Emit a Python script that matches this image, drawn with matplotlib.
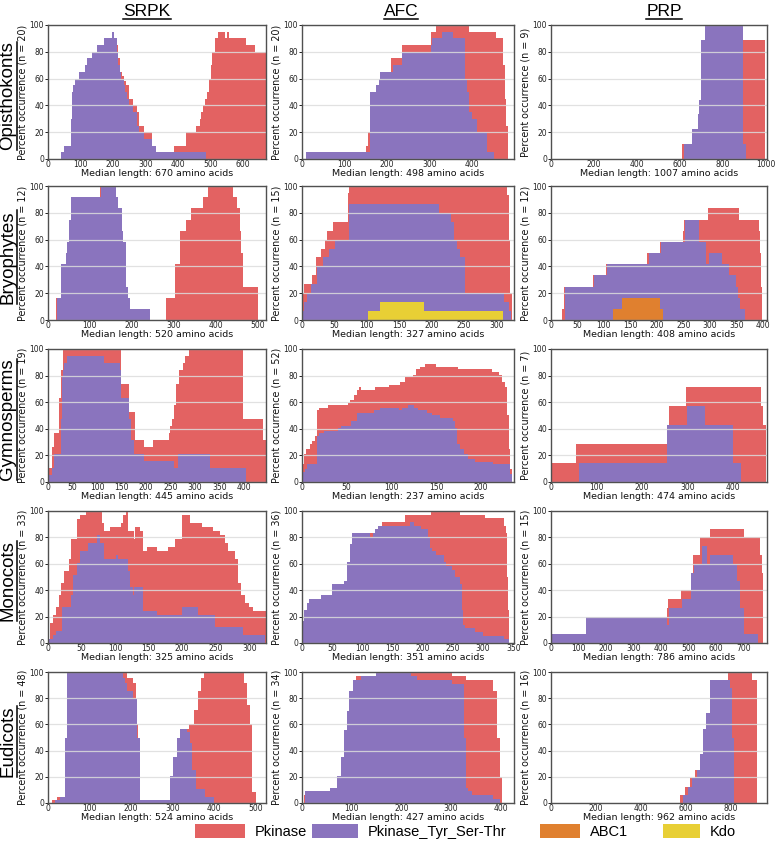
import matplotlib
matplotlib.use('Agg')
import matplotlib.pyplot as plt
import numpy as np
from matplotlib.patches import Rectangle
from matplotlib.lines import Line2D

W, H = 778, 850
fig = plt.figure(figsize=(W / 100, H / 100), dpi=100)

RED = '#E36262'
PURPLE = '#8A74BE'
ORANGE = '#E0802F'
YELLOW = '#E8CF35'

columns = ['SRPK', 'AFC', 'PRP']
groups = ['Opisthokonts', 'Bryophytes', 'Gymnosperms', 'Monocots', 'Eudicots']
n_seq = [[20, 20, 9], [12, 15, 12], [19, 52, 7], [33, 36, 15], [48, 34, 16]]
median_len = [[670, 498, 1007], [520, 327, 408], [445, 237, 474], [325, 351, 786], [524, 427, 962]]
xtick_step = [[100, 100, 200], [100, 50, 50], [50, 50, 100], [50, 50, 100], [100, 100, 200]]
legend_names = ['Pkinase', 'Pkinase_Tyr_Ser-Thr', 'ABC1', 'Kdo']

# ---- step profiles: (start position, percent) ----
# Opisthokonts
SRPK_OPI_PK = [(0, 0), (39, 5), (49, 10), (72, 30), (74, 50), (78, 55), (83, 60), (95, 65), (114, 70), (121, 75),
               (134, 80), (152, 85), (172, 90), (198, 95), (204, 90), (212, 85), (216, 75), (222, 65), (226, 62),
               (234, 58), (240, 55), (248, 45), (262, 40), (274, 35), (280, 25), (295, 20), (320, 10), (333, 5),
               (388, 10), (424, 20), (455, 25), (466, 30), (471, 35), (477, 40), (484, 45), (490, 50), (495, 60),
               (500, 70), (505, 80), (512, 90), (522, 95), (543, 90), (550, 95), (557, 90), (610, 85), (636, 80),
               (670, 80)]
SRPK_OPI_PST = [(0, 0), (39, 5), (49, 10), (72, 30), (74, 50), (78, 55), (83, 60), (95, 65), (114, 70), (121, 75),
                (134, 80), (152, 85), (172, 90), (198, 95), (204, 90), (212, 80), (216, 70), (220, 65), (225, 60),
                (233, 55), (238, 50), (242, 45), (248, 40), (262, 35), (275, 25), (280, 20), (295, 15), (320, 10),
                (333, 5), (486, 0), (670, 0)]
AFC_OPI_PK = [(0, 0), (10, 5), (150, 10), (155, 20), (160, 50), (174, 55), (180, 60), (184, 65), (209, 75),
              (236, 85), (302, 95), (314, 100), (393, 95), (455, 90), (471, 70), (476, 45), (480, 25), (484, 0),
              (498, 0)]
AFC_OPI_PST = [(0, 0), (10, 5), (160, 50), (174, 55), (180, 60), (184, 65), (213, 70), (236, 80), (302, 85),
               (306, 90), (328, 95), (354, 90), (382, 60), (387, 50), (392, 35), (399, 30), (411, 20), (434, 5),
               (450, 0), (498, 0)]
PRP_OPI_PK = [(0, 0), (612, 11.1), (657, 22.2), (683, 33.3), (690, 44.4), (698, 88.9), (717, 100), (895, 88.9),
              (1000, 0), (1007, 0)]
PRP_OPI_PST = [(0, 0), (618, 11.1), (657, 22.2), (683, 33.3), (690, 44.4), (698, 88.9), (717, 100), (895, 11.1),
               (907, 0), (1007, 0)]

# Bryophytes
SRPK_BRY_PK = [(0, 0), (20, 16.7), (32, 41.7), (42, 50), (46, 58.3), (50, 75), (55, 91.7), (124, 100), (162, 91.7),
               (168, 83.3), (176, 66.7), (180, 58.3), (185, 25), (190, 16.7), (195, 8.3), (244, 0), (282, 16.7),
               (302, 41.7), (314, 66.7), (329, 75), (341, 83.3), (370, 91.7), (382, 100), (442, 91.7), (452, 83.3),
               (457, 66.7), (461, 50), (464, 25), (502, 0), (520, 0)]
SRPK_BRY_PST = [(0, 0), (22, 16.7), (32, 41.7), (42, 50), (46, 58.3), (50, 75), (55, 91.7), (126, 100), (162, 91.7),
                (168, 83.3), (176, 66.7), (180, 58.3), (185, 25), (190, 16.7), (195, 8.3), (244, 0), (520, 0)]
AFC_BRY_PK = [(0, 20), (3, 26.7), (15, 33.3), (22, 46.7), (29, 53.3), (35, 60), (39, 66.7), (48, 73.3), (71, 95),
              (73, 100), (316, 93.3), (319, 60), (321, 20), (324, 0), (327, 0)]
AFC_BRY_PST = [(0, 6.7), (2.5, 13.3), (7.5, 20), (14, 26.7), (23, 40), (33, 46.7), (42, 53.3), (51, 60), (73, 86.7),
               (211, 80), (230, 73.3), (235, 60), (239, 53.3), (243, 46.7), (251, 20), (311, 13.3), (319, 6.7),
               (322, 0), (327, 0)]
AFC_BRY_KDO = [(0, 0), (102, 6.7), (120, 13.3), (188, 6.7), (310, 0), (327, 0)]
PRP_BRY_PK = [(0, 0), (20, 8.3), (24, 25), (80, 33.3), (103, 41.7), (182, 50), (205, 58.3), (250, 66.7), (252, 75),
              (297, 83.3), (356, 75), (392, 66.7), (395, 50), (397, 25), (399, 0), (408, 0)]
PRP_BRY_PST = [(0, 0), (26, 25), (82, 33.3), (105, 41.7), (186, 50), (207, 58.3), (253, 75), (280, 58.3),
               (293, 41.7), (299, 50), (323, 41.7), (336, 33.3), (349, 25), (353, 16.7), (357, 8.3), (367, 0),
               (408, 0)]
PRP_BRY_ABC1 = [(0, 0), (118, 8.3), (134, 16.7), (205, 8.3), (211, 0), (408, 0)]

# Gymnosperms
SRPK_GYM_PK = [(0, 5.3), (2, 10.5), (8, 26.3), (13, 36.8), (23, 63.2), (27, 84.2), (31, 100), (149, 73.7),
               (166, 52.6), (177, 31.6), (196, 26.3), (215, 31.6), (247, 36.8), (250, 42.1), (254, 47.4),
               (258, 57.9), (262, 73.7), (268, 84.2), (275, 89.5), (280, 94.7), (287, 100), (399, 47.4),
               (439, 31.6), (445, 31.6)]
SRPK_GYM_PST = [(0, 0), (2, 5.3), (8, 10.5), (13, 21.1), (26, 47.4), (28, 78.9), (30, 84.2), (33, 89.5),
                (38, 94.7), (115, 89.5), (146, 84.2), (149, 63.2), (166, 47.4), (170, 31.6), (175, 21.1),
                (196, 15.8), (257, 10.5), (266, 21.1), (331, 10.5), (404, 0), (445, 0)]
AFC_GYM_PK = [(0, 13.5), (2, 21.2), (5, 25), (9, 28.8), (11, 30.8), (15, 34.6), (17, 53.8), (19, 55.8), (29, 57.7),
              (51, 59.6), (54, 61.5), (58, 65.4), (62, 69.2), (64, 71.2), (66, 69.2), (82, 71.2), (97, 73.1),
              (109, 75), (115, 78.8), (124, 80.8), (128, 84.6), (132, 86.5), (137, 88.5), (150, 86.5),
              (174, 84.6), (212, 82.7), (220, 80.8), (224, 75), (227, 71.2), (229, 50), (231, 25), (233, 10),
              (235, 0), (237, 0)]
AFC_GYM_PST = [(0, 3.8), (1, 7.7), (3, 9.6), (5.5, 13.5), (16.5, 34.6), (19, 36.5), (25, 38.5), (40, 40.4),
               (44, 42.3), (55, 46.2), (62, 51.9), (81, 53.8), (87, 55.8), (108, 53.8), (112, 55.8), (118, 57.7),
               (125, 55.8), (130, 53.8), (140, 51.9), (145, 50), (154, 48.1), (169, 46.2), (171, 40.4),
               (173, 28.8), (177, 25), (181, 21.2), (186, 17.3), (193, 15.4), (213, 13.5), (233, 5.8), (235, 0),
               (237, 0)]
PRP_GYM_PK = [(0, 14.3), (55, 28.6), (254, 42.9), (259, 57.1), (296, 71.4), (461, 57.1), (466, 42.9), (471, 0),
              (474, 0)]
PRP_GYM_PST = [(0, 0), (62, 14.3), (254, 42.9), (298, 57.1), (337, 42.9), (400, 14.3), (416, 0), (474, 0)]

# Monocots
SRPK_MON_PK = [(0, 3), (3, 15.2), (7, 21.2), (12, 27.3), (17, 36.4), (19, 45.5), (24, 54.5), (31, 63.6),
               (35, 78.8), (43, 93.9), (48, 97), (56, 100), (81, 90.9), (84, 84.8), (93, 87.9), (109, 90.9),
               (112, 97), (117, 100), (119, 84.8), (128, 78.8), (130, 87.9), (137, 84.8), (142, 69.7), (148, 72.7),
               (162, 69.7), (179, 72.7), (190, 78.8), (200, 97), (212, 90.9), (229, 87.9), (246, 84.8),
               (257, 81.8), (264, 75.8), (268, 69.7), (279, 63.6), (284, 45.5), (288, 36.4), (294, 30.3),
               (300, 27.3), (305, 24.2), (325, 0)]
SRPK_MON_PST = [(0, 0), (2, 3), (7, 6.1), (12, 9.1), (21, 27.3), (35, 36.4), (38, 51.5), (43, 60.6), (47, 69.7),
                (59, 75.8), (73, 81.8), (77, 75.8), (84, 63.6), (101, 66.7), (105, 63.6), (119, 54.5), (122, 42.4),
                (126, 36.4), (128, 42.4), (142, 24.2), (162, 21.2), (200, 27.3), (224, 21.2), (249, 12.1),
                (290, 6.1), (323, 0), (325, 0)]
AFC_MON_PK = [(0, 16.7), (3, 25), (8, 30.6), (11, 33.3), (32, 36.1), (50, 44.4), (69, 47.2), (75, 61.1), (79, 75),
              (83, 83.3), (126, 88.9), (132, 91.7), (170, 97.2), (214, 100), (261, 97.2), (303, 94.4),
              (335, 88.9), (337, 83.3), (339, 50), (341, 25), (343, 0), (351, 0)]
AFC_MON_PST = [(0, 16.7), (3, 25), (8, 30.6), (11, 33.3), (32, 36.1), (50, 44.4), (69, 47.2), (75, 61.1),
               (79, 75), (83, 83.3), (113, 80.6), (117, 83.3), (121, 86.1), (126, 88.9), (178, 91.7), (186, 88.9),
               (197, 86.1), (208, 80.6), (212, 72.2), (216, 69.4), (222, 66.7), (235, 61.1), (238, 58.3),
               (249, 55.6), (254, 50), (262, 44.4), (265, 25), (267, 13.9), (270, 11.1), (286, 8.3), (300, 5.6),
               (335, 2.8), (343, 0), (351, 0)]
PRP_MON_PK = [(0, 6.7), (126, 20), (422, 26.7), (427, 33.3), (472, 40), (508, 53.3), (518, 66.7), (544, 80),
              (578, 86.7), (702, 80), (762, 66.7), (768, 53.3), (772, 0), (786, 0)]
PRP_MON_PST = [(0, 6.7), (126, 20), (422, 13.3), (430, 26.7), (476, 33.3), (511, 53.3), (520, 60), (548, 73.3),
               (566, 60), (580, 66.7), (662, 60), (676, 46.7), (688, 26.7), (703, 6.7), (755, 0), (786, 0)]

# Eudicots
SRPK_EUD_PK = [(0, 0), (10, 2.1), (22, 4.2), (41, 50), (45, 100), (190, 95.8), (205, 91.7), (212, 60), (217, 2.1),
               (294, 20.8), (300, 35.4), (310, 50), (320, 56.3), (340, 60), (350, 70.8), (360, 85.4), (368, 95.8),
               (375, 100), (470, 91.7), (478, 75), (485, 60), (490, 8.3), (500, 0), (524, 0)]
SRPK_EUD_PST = [(0, 0), (17, 2.1), (29, 4.2), (41, 50), (45, 100), (180, 95.8), (185, 91.7), (190, 85.4),
                (205, 79.2), (215, 50), (220, 2.1), (294, 20.8), (300, 35.4), (310, 50), (318, 56.3), (335, 54.2),
                (342, 45.8), (347, 25), (355, 10.4), (378, 4.2), (400, 0), (524, 0)]
AFC_EUD_PK = [(0, 0), (4, 5.9), (6, 8.8), (57, 11.8), (70, 20.6), (78, 35.3), (84, 55.9), (90, 70.6), (94, 85.3),
              (102, 94.1), (108, 97.1), (190, 100), (302, 97.1), (330, 94.1), (384, 85.3), (392, 50), (398, 20),
              (402, 0), (427, 0)]
AFC_EUD_PST = [(0, 0), (6, 8.8), (57, 11.8), (70, 20.6), (78, 35.3), (84, 55.9), (90, 70.6), (94, 85.3),
               (102, 94.1), (118, 97.1), (149, 100), (220, 97.1), (231, 94.1), (302, 91.2), (327, 50), (331, 11.8),
               (335, 8.8), (343, 5.9), (384, 2.9), (398, 0), (427, 0)]
PRP_EUD_PK = [(0, 0), (573, 6.25), (596, 12.5), (618, 18.75), (640, 25), (662, 37.5), (676, 56.25), (689, 68.75),
              (707, 93.75), (787, 100), (893, 93.75), (916, 0), (962, 0)]
PRP_EUD_PST = [(0, 0), (587, 6.25), (609, 12.5), (627, 18.75), (649, 25), (662, 37.5), (676, 56.25),
               (689, 68.75), (707, 93.75), (796, 87.5), (805, 50), (816, 0), (962, 0)]

panels = {
    (0, 0): [(SRPK_OPI_PK, RED), (SRPK_OPI_PST, PURPLE)],
    (0, 1): [(AFC_OPI_PK, RED), (AFC_OPI_PST, PURPLE)],
    (0, 2): [(PRP_OPI_PK, RED), (PRP_OPI_PST, PURPLE)],
    (1, 0): [(SRPK_BRY_PK, RED), (SRPK_BRY_PST, PURPLE)],
    (1, 1): [(AFC_BRY_PK, RED), (AFC_BRY_PST, PURPLE), (AFC_BRY_KDO, YELLOW)],
    (1, 2): [(PRP_BRY_PK, RED), (PRP_BRY_PST, PURPLE), (PRP_BRY_ABC1, ORANGE)],
    (2, 0): [(SRPK_GYM_PK, RED), (SRPK_GYM_PST, PURPLE)],
    (2, 1): [(AFC_GYM_PK, RED), (AFC_GYM_PST, PURPLE)],
    (2, 2): [(PRP_GYM_PK, RED), (PRP_GYM_PST, PURPLE)],
    (3, 0): [(SRPK_MON_PK, RED), (SRPK_MON_PST, PURPLE)],
    (3, 1): [(AFC_MON_PK, RED), (AFC_MON_PST, PURPLE)],
    (3, 2): [(PRP_MON_PK, RED), (PRP_MON_PST, PURPLE)],
    (4, 0): [(SRPK_EUD_PK, RED), (SRPK_EUD_PST, PURPLE)],
    (4, 1): [(AFC_EUD_PK, RED), (AFC_EUD_PST, PURPLE)],
    (4, 2): [(PRP_EUD_PK, RED), (PRP_EUD_PST, PURPLE)],
}

col_px = [(48, 266), (302, 514), (551, 767)]
row_px = [(25, 159), (186, 320), (349, 482), (511, 643), (672, 803)]

TICK_FONT = 'DejaVu Sans'
HEAD_FONT = 'Liberation Sans'

for r in range(5):
    for c in range(3):
        l, rr = col_px[c]
        t, b = row_px[r]
        ax = fig.add_axes([l / W, 1 - b / H, (rr - l) / W, (b - t) / H])
        for series, color in panels[(r, c)]:
            xs = np.array([p[0] for p in series], dtype=float)
            ys = np.array([p[1] for p in series], dtype=float)
            ax.fill_between(xs, 0, ys, step='post', color=color, linewidth=0, zorder=1)
        L = median_len[r][c]
        ax.set_xlim(0, L)
        ax.set_ylim(0, 100)
        ax.set_yticks(range(0, 101, 20))
        ax.set_xticks(np.arange(0, L + 1, xtick_step[r][c]))
        ax.set_axisbelow(False)
        ax.grid(axis='y', color='#dcdcdc', linewidth=0.9, alpha=0.85)
        for s in ax.spines.values():
            s.set_color('#505050')
            s.set_linewidth(1.0)
            s.set_zorder(4)
        ax.tick_params(axis='y', length=2, width=0.7, labelsize=5.5, pad=0.8, colors='#222222')
        ax.tick_params(axis='x', length=1.0, width=0.7, labelsize=5.5, pad=0.0, colors='#222222')
        for lab in ax.get_xticklabels() + ax.get_yticklabels():
            lab.set_family(TICK_FONT)
        ax.set_ylabel(f'Percent occurrence (n = {n_seq[r][c]})', fontsize=6.9, family=TICK_FONT,
                      labelpad=1.5, color='#111111')
        ax.set_xlabel(f'Median length: {L} amino acids', fontsize=6.8, family=TICK_FONT,
                      labelpad=0.0, color='#111111')

# column titles and row labels
under_h = []
under_v = []
title_x = [147, 401, 664]
for c, name in enumerate(columns):
    t = fig.text(title_x[c] / W, 1 - 12 / H, name, ha='center', va='center', fontsize=12.5, family=HEAD_FONT)
    under_h.append(t)
for r, name in enumerate(groups):
    t0, b0 = row_px[r]
    yc = (t0 + b0) / 2 + 4
    t = fig.text(8 / W, 1 - yc / H, name, ha='center', va='center', rotation=90, fontsize=13.5, family=HEAD_FONT)
    under_v.append(t)

fig.canvas.draw()
rend = fig.canvas.get_renderer()
for t in under_h:
    bb = t.get_window_extent(rend)
    y = bb.y0 + 1
    fig.add_artist(Line2D([bb.x0 / W, bb.x1 / W], [y / H, y / H], transform=fig.transFigure,
                          color='black', linewidth=1.1))
for t in under_v:
    bb = t.get_window_extent(rend)
    x = bb.x1 + 0.5
    fig.add_artist(Line2D([x / W, x / W], [bb.y0 / H, bb.y1 / H], transform=fig.transFigure,
                          color='black', linewidth=1.1))

# legend
leg_colors = [RED, PURPLE, ORANGE, YELLOW]
leg_patch_x = [(195, 245), (312, 358), (540, 580), (663, 700)]
for name, color, (x0, x1) in zip(legend_names, leg_colors, leg_patch_x):
    fig.add_artist(Rectangle((x0 / W, 1 - 838 / H), (x1 - x0) / W, 14 / H, transform=fig.transFigure,
                             facecolor=color, edgecolor='none'))
    fig.text((x1 + 10) / W, 1 - 832 / H, name, ha='left', va='center', fontsize=10.5, family=HEAD_FONT)

fig.savefig('out.png', dpi=100)
